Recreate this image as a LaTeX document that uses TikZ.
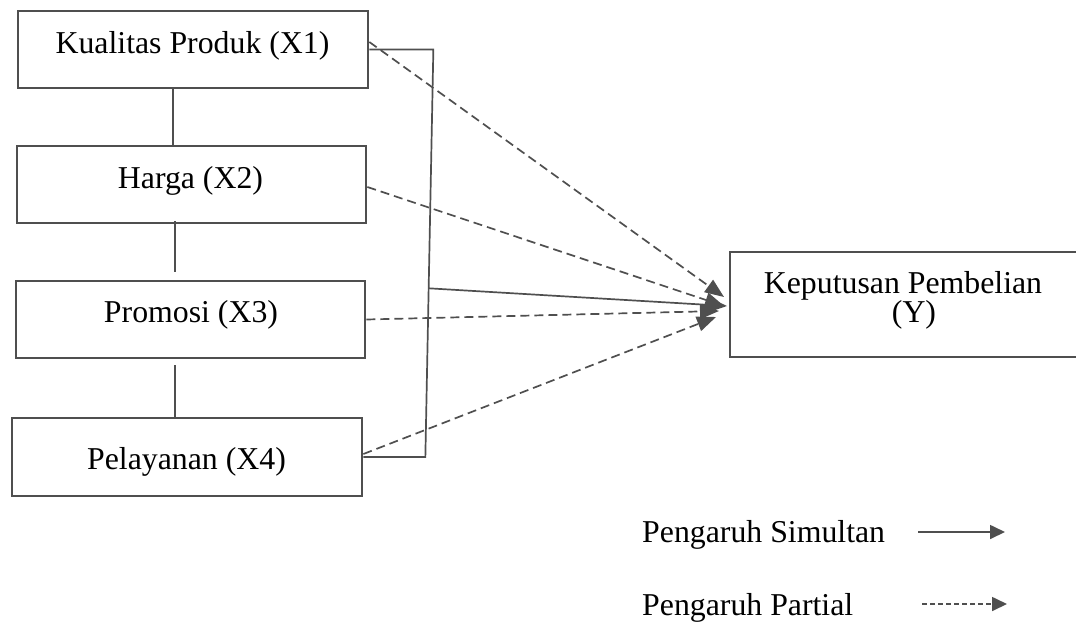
\documentclass[tikz,border=0pt]{standalone}
\usepackage{fontspec}
\setmainfont{Liberation Serif}
\usetikzlibrary{arrows.meta,calc}
\definecolor{linegray}{HTML}{4F4F4F}
\begin{document}
\begin{tikzpicture}[x=1pt,y=-1pt,
  box/.style={draw=linegray,line width=2.7pt,minimum width=349pt,minimum height=77pt,inner sep=0pt},
  conn/.style={draw=linegray,line width=1.7pt},
  partial/.style={conn,dash pattern=on 9pt off 5pt,-{Triangle[length=19pt,width=15pt]}},
  simul/.style={conn,-{Triangle[length=19pt,width=15pt]}},
  lbl/.style={font=\fontsize{31.8}{38}\selectfont,inner sep=0pt,anchor=base},
  legsimul/.style={conn,-{Triangle[length=15pt,width=14pt]}},
  legpartial/.style={conn,dash pattern=on 4.5pt off 3.5pt,-{Triangle[length=15pt,width=14pt]}}]
\useasboundingbox (0,0) rectangle (1076,622);
% boxes
\node[box,minimum width=350pt] (x1) at (193,49.5) {};
\node[box] (x2) at (191.5,184.5) {};
\node[box] (x3) at (190.5,319.5) {};
\node[box,minimum width=350pt,minimum height=78pt] (x4) at (187,457) {};
\node[box,minimum height=105pt] (y) at (904.5,304.5) {};
% texts
\node[lbl] (t1) at (192.5,53) {Kualitas Produk (X1)};
\node[lbl] (t2) at (190.5,188) {Harga (X2)};
\node[lbl] (t3) at (191,322) {Promosi (X3)};
\node[lbl] (t4) at (186.5,469) {Pelayanan (X4)};
\node[lbl] (ty1) at (903,293) {Keputusan Pembelian};
\node[lbl] (ty2) at (914,322) {(Y)};
% vertical links between X boxes
\draw[conn] ([xshift=-20pt]x1.south) -- ([xshift=-18.5pt]x2.north);
\draw[conn] ([xshift=-16.5pt,yshift=3pt]x2.south) -- ([xshift=-15.5pt,yshift=8pt]x3.north);
\draw[conn] ([xshift=-15.5pt,yshift=-6pt]x3.south) -- ([xshift=-12pt]x4.north);
% bracket
\coordinate (bt) at ([xshift=64pt]x1.east);
\coordinate (bb) at ([xshift=62pt]x4.east);
\draw[conn] (x1.east) -- (bt) -- (bb) -- (x4.east);
\coordinate (bm) at ($(bt)!0.586!(bb)$);
% arrow tips
\coordinate (tip1) at (724,297);
\coordinate (tips) at (727,306);
\coordinate (tip2) at (724,306);
\coordinate (tip3) at (719,311);
\coordinate (tip4) at (716,317);
% partial arrows
\draw[partial] ([yshift=7.5pt]x1.east) -- (tip1);
\draw[partial] ([yshift=-2.5pt]x2.east) -- (tip2);
\draw[partial] (x3.east) -- (tip3);
\draw[partial] ([yshift=3pt]x4.east) -- (tip4);
% simultaneous arrow
\draw[simul] (bm) -- (tips);
% legend
\node[lbl,anchor=base west] (ls) at (642,542) {Pengaruh Simultan};
\node[lbl,anchor=base west] (lp) at (642,615) {Pengaruh Partial};
\coordinate (ls1) at (918,532);
\coordinate (ls2) at (1005,532);
\coordinate (lp1) at (922,604);
\coordinate (lp2) at (1007,604);
\draw[legsimul] (ls1) -- (ls2);
\draw[legpartial] (lp1) -- (lp2);
\end{tikzpicture}
\end{document}
